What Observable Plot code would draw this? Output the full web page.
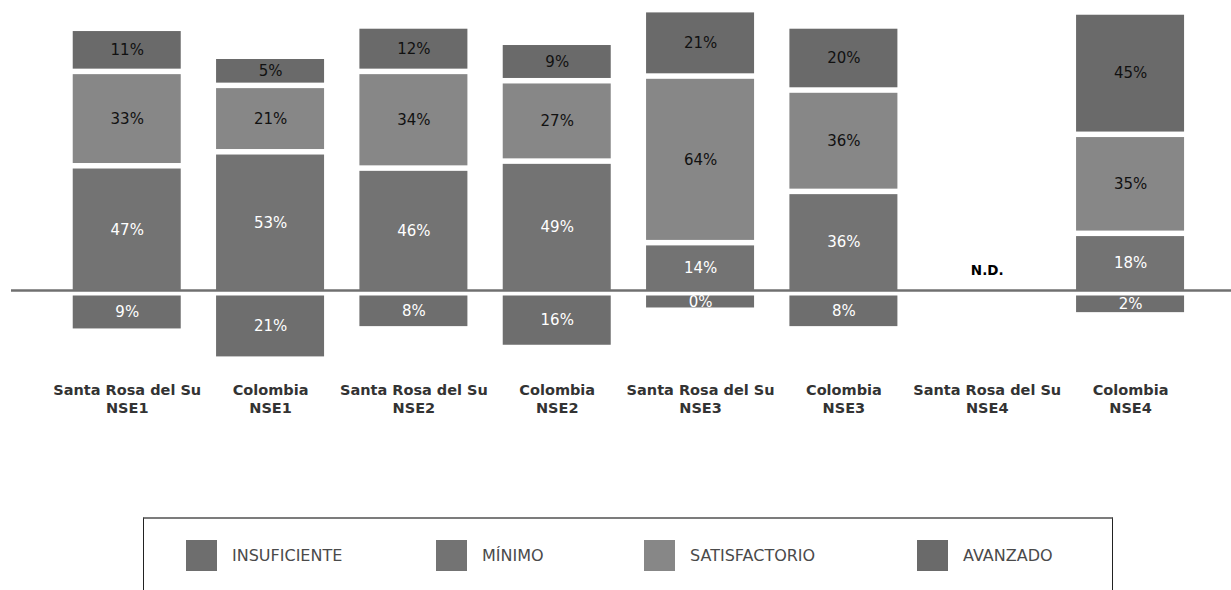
<!DOCTYPE html>
<html>
<head>
<meta charset="utf-8">
<script src="https://cdn.jsdelivr.net/npm/d3@7"></script>
<script src="https://cdn.jsdelivr.net/npm/@observablehq/plot@0.6"></script>
<style>
  html, body { margin: 0; padding: 0; background: #fff; overflow: hidden; }
  #chart svg { display: block; }
  .legend {
    box-sizing: border-box;
    margin-left: 143px;
    margin-top: 87px;
    width: 970px;
    height: 110px;
    border-top: 2px solid #7c7c7c;
    border-left: 1px solid #222;
    border-right: 1px solid #222;
    padding-top: 21px;
    padding-left: 42px;
    display: flex;
    align-items: flex-start;
    font-family: "DejaVu Sans", sans-serif;
    font-size: 16px;
    color: #4a4a4a;
  }
  .legend .item { display: flex; align-items: center; height: 31px; white-space: nowrap; }
  .legend .sw { width: 31px; height: 31px; margin-right: 15px; flex: none; }
</style>
</head>
<body>
<div id="chart"></div>
<script>
// ---- data ----
const categories = [
  "Santa Rosa del Su\nNSE1", "Colombia\nNSE1",
  "Santa Rosa del Su\nNSE2", "Colombia\nNSE2",
  "Santa Rosa del Su\nNSE3", "Colombia\nNSE3",
  "Santa Rosa del Su\nNSE4", "Colombia\nNSE4"
];
const levels = ["INSUFICIENTE", "MÍNIMO", "SATISFACTORIO", "AVANZADO"];
const insuficiente  = [9, 21, 8, 16, 0, 8, null, 2];
const minimo        = [47, 53, 46, 49, 14, 36, null, 18];
const satisfactorio = [33, 21, 34, 27, 64, 36, null, 35];
const avanzado      = [11, 5, 12, 9, 21, 20, null, 45];
const missingText = "N.D.";

// ---- styles ----
const levelColors = {
  "INSUFICIENTE": "#6e6e6e",
  "MÍNIMO": "#737373",
  "SATISFACTORIO": "#878787",
  "AVANZADO": "#6a6a6a"
};
const labelColors = {
  "INSUFICIENTE": "#ffffff",
  "MÍNIMO": "#ffffff",
  "SATISFACTORIO": "#111111",
  "AVANZADO": "#111111"
};
const legendItemWidths = [250, 208, 273, 150]; // layout of legend entries (px)
const segPad = 7.5; // extra height per segment (value units), as in the original layout

// ---- build stacked rows ----
const rows = [];
const missing = [];
categories.forEach((cat, i) => {
  if (insuficiente[i] == null) { missing.push({cat}); return; }
  rows.push({cat, level: "INSUFICIENTE", v: insuficiente[i], y1: 0, y2: -(insuficiente[i] + segPad)});
  let top = 0;
  [["MÍNIMO", minimo], ["SATISFACTORIO", satisfactorio], ["AVANZADO", avanzado]].forEach(([lv, arr]) => {
    const y1 = top, y2 = top + arr[i] + segPad;
    rows.push({cat, level: lv, v: arr[i], y1, y2});
    top = y2;
  });
});

const chart = Plot.plot({
  width: 1231,
  height: 430,
  marginLeft: 11,
  marginRight: 0,
  marginTop: 0,
  marginBottom: 52,
  style: {fontFamily: "DejaVu Sans, sans-serif", background: "#fff"},
  x: {domain: categories, range: [37.4, 1219.4], padding: 0.2465, round: false, axis: null, label: null},
  y: {domain: [0, 100], range: [290, 57], axis: null, label: null},
  color: {type: "identity"},
  marks: [
    Plot.ruleY([0], {stroke: "#707070", strokeWidth: 2.5}),
    Plot.barY(rows, {x: "cat", y1: "y1", y2: "y2", fill: d => levelColors[d.level], insetTop: 5.5}),
    Plot.text(rows, {
      x: "cat", y: d => (d.y1 + d.y2) / 2, dy: 2.75,
      text: d => d.v + "%", fill: d => labelColors[d.level], fontSize: 15
    }),
    Plot.text(missing, {x: "cat", y: () => 0, dy: -19.5, text: () => missingText, fontWeight: "bold", fontSize: 13.5, fill: "#000"}),
    Plot.axisX({tickSize: 0, tickPadding: 3, fontSize: 14.5, fontWeight: "bold", fill: "#333", lineHeight: 1.27, label: null})
  ]
});
document.getElementById("chart").appendChild(chart);

// ---- legend ----
const legend = document.createElement("div");
legend.className = "legend";
levels.forEach((lv, i) => {
  const item = document.createElement("div");
  item.className = "item";
  item.style.width = legendItemWidths[i] + "px";
  const sw = document.createElement("div");
  sw.className = "sw";
  sw.style.background = levelColors[lv];
  const label = document.createElement("span");
  label.textContent = lv;
  item.appendChild(sw);
  item.appendChild(label);
  legend.appendChild(item);
});
document.body.appendChild(legend);
</script>
</body>
</html>
